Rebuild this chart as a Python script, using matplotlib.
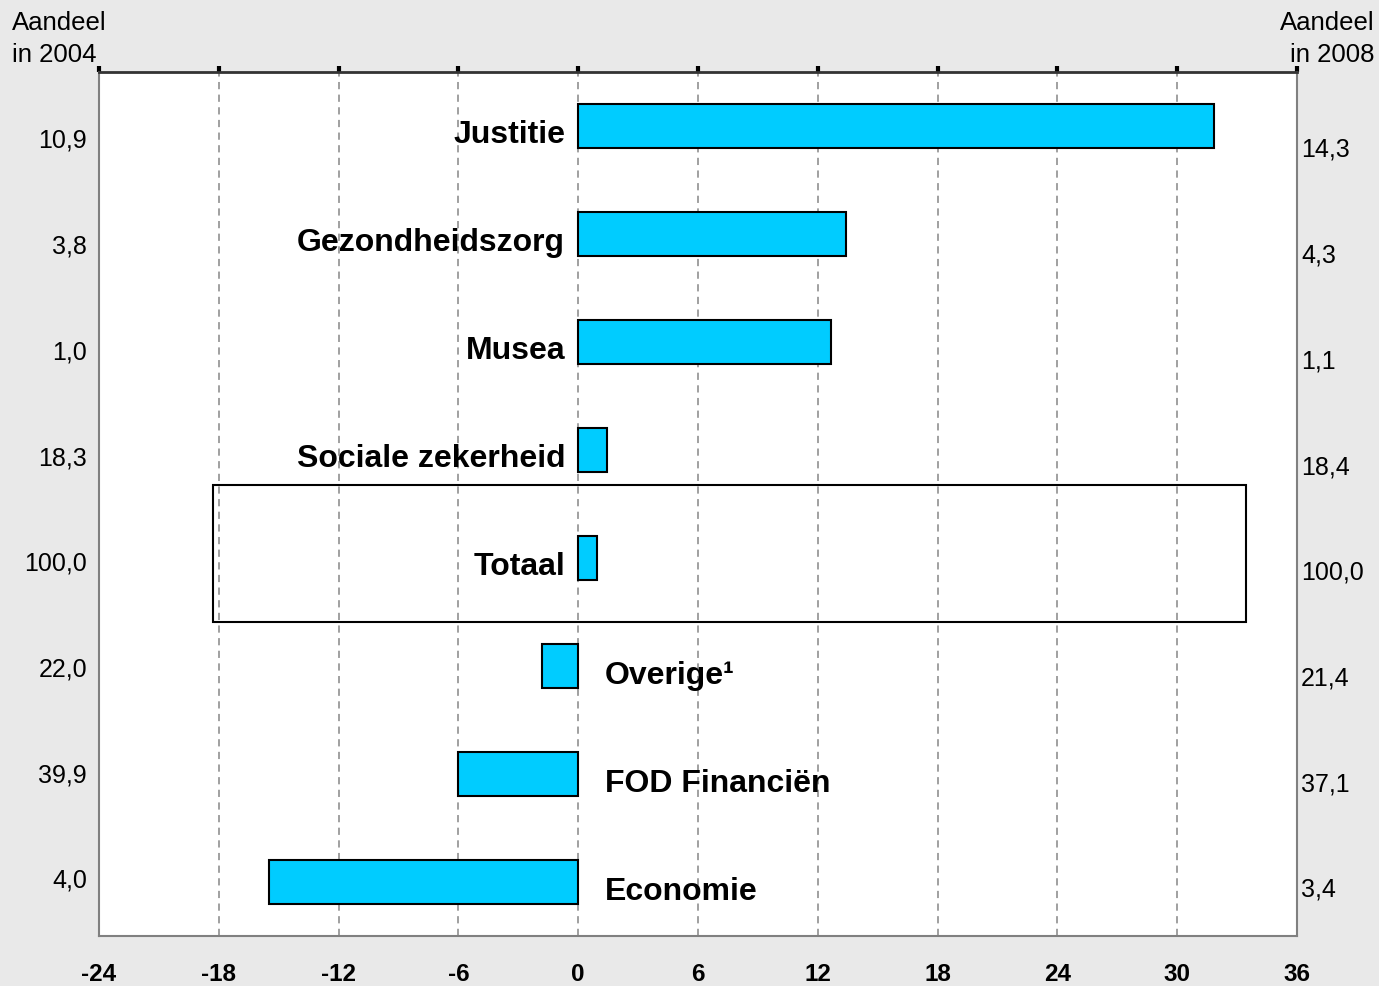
import matplotlib.pyplot as plt
from matplotlib.patches import Rectangle

# data
categories = ["Justitie", "Gezondheidszorg", "Musea", "Sociale zekerheid",
              "Totaal", "Overige\u00b9", "FOD Financi\u00ebn", "Economie"]
growth = [31.85, 13.4, 12.65, 1.45, 0.95, -1.8, -6.0, -15.5]
share_2004 = ["10,9", "3,8", "1,0", "18,3", "100,0", "22,0", "39,9", "4,0"]
share_2008 = ["14,3", "4,3", "1,1", "18,4", "100,0", "21,4", "37,1", "3,4"]
xticks = list(range(-24, 37, 6))

plt.rcParams['font.family'] = ['Liberation Sans', 'DejaVu Sans']
bg = "#e9e9e9"

fig = plt.figure(figsize=(13.79, 9.87), dpi=100, facecolor=bg)
ax = fig.add_axes([99 / 1379, 50 / 987, 1198 / 1379, 864 / 987])
ax.set_facecolor("white")

ypos = list(range(len(categories)))
ax.barh(ypos, growth, height=0.4, color="#00ccff", edgecolor="black", linewidth=1.5, zorder=3)

ax.set_xlim(-24, 36)
ax.set_ylim(len(categories) - 0.5, -0.5)

# dashed grid
for x in xticks[1:-1]:
    ax.axvline(x, color="#999999", linestyle=(0, (4, 3)), linewidth=1.3, zorder=1)

# box round the total
ax.add_patch(Rectangle((-18.3, 3.32), 51.75, 1.27, fill=False, edgecolor="black",
                       linewidth=1.5, zorder=4))

# category labels
for i, (name, val) in enumerate(zip(categories, growth)):
    if val >= 0:
        ax.text(-0.65, i + 0.07, name, ha="right", va="center", fontsize=23,
                fontweight="bold", color="black", zorder=5)
    else:
        ax.text(1.35, i + 0.08, name, ha="left", va="center", fontsize=23,
                fontweight="bold", color="black", zorder=5)

# share labels left and right
for i, (a, b) in enumerate(zip(share_2004, share_2008)):
    fig.text(87 / 1379, 1 - (141 + i * 105.7) / 987, a, ha="right", va="center", fontsize=18)
    fig.text(1301 / 1379, 1 - (150 + i * 105.7) / 987, b, ha="left", va="center", fontsize=18)

fig.text(12 / 1379, 1 - 23 / 987, "Aandeel", ha="left", va="center", fontsize=18.5)
fig.text(12 / 1379, 1 - 55 / 987, "in 2004", ha="left", va="center", fontsize=18.5)
fig.text(1375 / 1379, 1 - 23 / 987, "Aandeel", ha="right", va="center", fontsize=18.5)
fig.text(1375 / 1379, 1 - 55 / 987, "in 2008", ha="right", va="center", fontsize=18.5)

# ticks
ax.set_yticks([])
ax.set_xticks(xticks)
ax.set_xticklabels([str(t) for t in xticks], fontsize=17.5, fontweight="bold")
ax.tick_params(axis="x", bottom=False, top=True, direction="out", length=4, width=3,
               labelbottom=True, pad=15, color="black")

for side in ["left", "right", "bottom"]:
    ax.spines[side].set_color("#808080")
    ax.spines[side].set_linewidth(1.5)
ax.spines["top"].set_color("#333333")
ax.spines["top"].set_linewidth(2)

fig.savefig("out.png", dpi=100, facecolor=bg)
